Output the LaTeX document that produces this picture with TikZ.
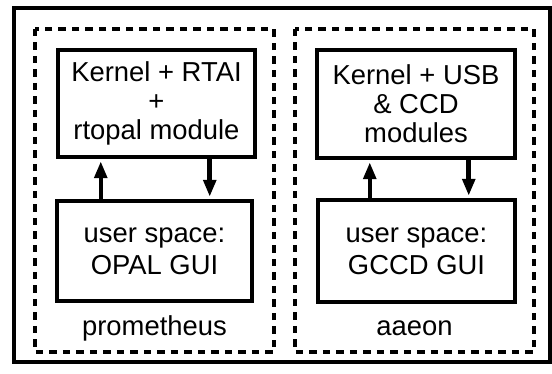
\documentclass[tikz,border=0pt]{standalone}
\usepackage{fontspec}
\setmainfont{Liberation Sans}
\usetikzlibrary{arrows.meta,positioning}

\tikzset{
  hostbox/.style={draw, dash pattern=on 0.15cm off 0.12cm, line width=0.085cm},
  layerbox/.style={draw, line width=0.09cm, align=center, inner sep=0pt,
    font=\fontsize{15.6}{16.5}\selectfont},
  userbox/.style={layerbox, font=\fontsize{15.6}{18.1}\selectfont},
  hostname/.style={font=\fontsize{15.6}{16.5}\selectfont, inner sep=0pt},
  flow/.style={line width=0.09cm, -{Triangle[length=0.34cm,width=0.25cm]}, shorten >=0.04cm},
}

\begin{document}
\begin{tikzpicture}[x=0.02cm, y=-0.02cm]
  \useasboundingbox (0,0) rectangle (552,374);
  \draw[line width=0.085cm] (14,8) rectangle (550,362);

  % prometheus
  \draw[hostbox] (35,29) rectangle (274,352);
  \node[layerbox, minimum width=3.94cm, minimum height=2.14cm] (rtai) at (156.5,103.5)
    {Kernel + RTAI\\+\\rtopal module};
  \node[userbox, minimum width=3.9cm, minimum height=2cm] (opal) at (154.5,251)
    {user space:\\OPAL GUI};
  \node[hostname] (prometheus) at (154.5,328) {prometheus};
  \draw[flow] ([xshift=0.92cm]opal.north west) -- ([xshift=0.92cm]opal.north west |- rtai.south);
  \draw[flow] ([xshift=3.08cm]rtai.south west) -- ([xshift=3.08cm]rtai.south west |- opal.north);

  % aaeon
  \draw[hostbox] (295,29) rectangle (534,352);
  \node[layerbox, minimum width=3.96cm, minimum height=2.16cm] (ccd) at (416,104)
    {Kernel + USB\\\& CCD\\modules};
  \node[userbox, minimum width=3.94cm, minimum height=2.04cm] (gccd) at (416.5,251)
    {user space:\\GCCD GUI};
  \node[hostname] (aaeon) at (414.5,328) {aaeon};
  \draw[flow] ([xshift=1.08cm]gccd.north west) -- ([xshift=1.08cm]gccd.north west |- ccd.south);
  \draw[flow] ([xshift=3.08cm]ccd.south west) -- ([xshift=3.08cm]ccd.south west |- gccd.north);
\end{tikzpicture}
\end{document}
